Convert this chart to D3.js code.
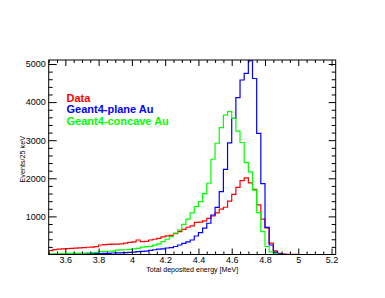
<!DOCTYPE html>
<html>
<head>
<meta charset="utf-8">
<script src="https://cdn.jsdelivr.net/npm/d3@7"></script>
<style>
  html, body { margin: 0; padding: 0; background: #fff; }
  svg { display: block; }
  text { font-family: "Liberation Sans", Arial, Helvetica, sans-serif; }
</style>
</head>
<body>
<svg id="chart" width="385" height="298"></svg>
<script>
// ---- data ----
const binStart = 3.5;          // MeV
const binWidth = 0.025;        // MeV (25 keV)
const xDomain = [3.5, 5.225];
const yDomain = [0, 5105];
const xTickLabels = ["3.6", "3.8", "4", "4.2", "4.4", "4.6", "4.8", "5", "5.2"];
const xTickValues = [3.6, 3.8, 4.0, 4.2, 4.4, 4.6, 4.8, 5.0, 5.2];
const yTickValues = [1000, 2000, 3000, 4000, 5000];
const yTickLabels = ["1000", "2000", "3000", "4000", "5000"];
const seriesNames = ["Data", "Geant4-plane Au", "Geant4-concave Au"];
const seriesColors = ["#ff0000", "#0000ff", "#00ff00"];

const dataCounts = [100,130,140,150,155,160,165,175,180,190,195,205,250,260,265,270,270,280,300,320,
  330,380,340,345,380,400,425,460,490,500,550,600,660,715,750,845,850,880,950,1010,
  1090,1190,1240,1400,1580,1760,1940,2010,1880,1710,1300,930,700,300,95,30,8,3,2,1,
  0,0,0,0,0,0,0,0,0];
const planeCounts = [5,5,5,5,8,8,8,10,12,18,20,22,25,30,32,40,42,45,50,55,
  60,75,80,90,110,125,140,150,170,180,210,250,290,330,380,485,572,690,820,1037,
  1239,1650,2236,2930,3575,4120,4580,4756,5085,4620,3180,1860,714,250,60,15,4,0,0,0,
  0,0,0,0,0,0,0,0,0];
const concaveCounts = [10,15,20,25,30,30,35,35,40,45,50,55,75,80,85,90,115,120,125,135,
  150,160,195,205,215,245,280,340,400,470,560,640,790,930,1090,1255,1390,1600,1870,2500,
  2920,3330,3660,3750,3575,3240,2940,2420,2170,1690,1100,600,210,70,15,5,0,0,0,0,
  0,0,0,0,0,0,0,0,0];

// ---- layout ----
const L = 48.7, R = 335.7, T = 60, B = 254.5;
const svg = d3.select("#chart");
const x = d3.scaleLinear().domain(xDomain).range([L, R]);
const y = d3.scaleLinear().domain(yDomain).range([B, T]);

svg.append("defs").append("clipPath").attr("id", "clip")
  .append("rect").attr("x", L).attr("y", T).attr("width", R - L).attr("height", B - T);

function stepPoints(counts) {
  const pts = counts.map((c, i) => [binStart + i * binWidth, c]);
  pts.push([binStart + counts.length * binWidth, counts[counts.length - 1]]);
  return pts;
}
const line = d3.line().x(d => x(d[0])).y(d => y(d[1])).curve(d3.curveStepAfter);

const allSeries = [dataCounts, planeCounts, concaveCounts];
const g = svg.append("g").attr("clip-path", "url(#clip)");
allSeries.forEach((s, k) => {
  g.append("path").attr("d", line(stepPoints(s)))
    .attr("fill", "none").attr("stroke", seriesColors[k]).attr("stroke-width", 1.2);
});

// ---- axes (ROOT style, ticks inside) ----
const xMinor = d3.range(3.5, 5.2251, 0.05).filter(v => !xTickValues.some(t => Math.abs(t - v) < 1e-6));
const yMinor = d3.range(200, 5001, 200).filter(v => v % 1000 !== 0);

svg.append("g").attr("class", "ax").attr("transform", `translate(0,${B})`)
  .call(d3.axisBottom(x).tickValues(xTickValues).tickSize(-6).tickPadding(2)
    .tickFormat((d, i) => xTickLabels[i]));
svg.append("g").attr("class", "ax").attr("transform", `translate(0,${B})`)
  .call(d3.axisBottom(x).tickValues(xMinor).tickSize(-3).tickFormat(""));
svg.append("g").attr("class", "ax").attr("transform", `translate(0,${T})`)
  .call(d3.axisTop(x).tickValues(xTickValues).tickSize(-6).tickFormat(""));
svg.append("g").attr("class", "ax").attr("transform", `translate(0,${T})`)
  .call(d3.axisTop(x).tickValues(xMinor).tickSize(-3).tickFormat(""));

svg.append("g").attr("class", "ax").attr("transform", `translate(${L},0)`)
  .call(d3.axisLeft(y).tickValues(yTickValues).tickSize(-8).tickPadding(3)
    .tickFormat((d, i) => yTickLabels[i]));
svg.append("g").attr("class", "ax").attr("transform", `translate(${L},0)`)
  .call(d3.axisLeft(y).tickValues(yMinor).tickSize(-4).tickFormat(""));
svg.append("g").attr("class", "ax").attr("transform", `translate(${R},0)`)
  .call(d3.axisRight(y).tickValues(yTickValues).tickSize(-7).tickFormat(""));
svg.append("g").attr("class", "ax").attr("transform", `translate(${R},0)`)
  .call(d3.axisRight(y).tickValues(yMinor).tickSize(-4).tickFormat(""));

svg.selectAll(".domain").remove();
svg.selectAll(".tick line").attr("stroke", "#000").attr("stroke-width", 1);
svg.selectAll(".tick text").attr("font-size", 9).attr("fill", "#000")
  .attr("font-family", "'Liberation Sans', Arial, sans-serif");

// frame
svg.append("rect").attr("x", L).attr("y", T).attr("width", R - L).attr("height", B - T)
  .attr("fill", "none").attr("stroke", "#000").attr("stroke-width", 1);

// axis titles
svg.append("text").attr("x", (L + R) / 2).attr("y", 272).attr("text-anchor", "middle")
  .attr("font-size", 7.1).attr("fill", "#000").text("Total deposited energy [MeV]");
svg.append("text").attr("transform", `translate(24.5,${(T + B) / 2 + 2}) rotate(-90)`)
  .attr("text-anchor", "middle").attr("font-size", 7.2).attr("fill", "#000").text("Events/25 keV");

// legend
const legendY = [101.5, 113.2, 124.8];
seriesNames.forEach((n, k) => {
  svg.append("text").attr("x", 66.5).attr("y", legendY[k]).attr("font-size", 11)
    .attr("font-weight", "bold").attr("fill", seriesColors[k]).text(n);
});
</script>
</body>
</html>
